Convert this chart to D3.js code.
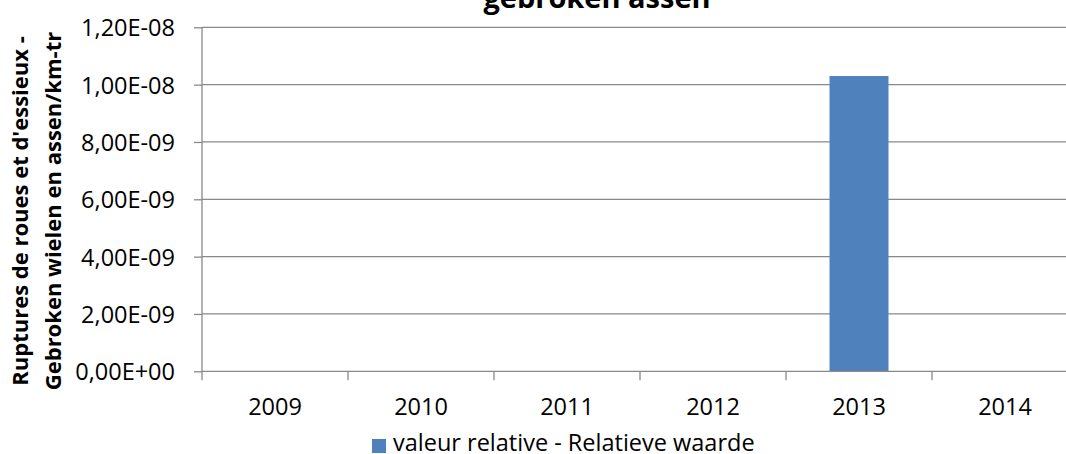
<!DOCTYPE html>
<html>
<head>
<meta charset="utf-8">
<script src="https://cdn.jsdelivr.net/npm/d3@7"></script>
<style>
  html, body { margin: 0; padding: 0; background: #fff; overflow: hidden; }
  svg { display: block; }
  text { font-family: "Open Sans", sans-serif; fill: #000; }
</style>
</head>
<body>
<svg id="chart" width="1066" height="454"></svg>
<script>
// Data
const years = ["2009", "2010", "2011", "2012", "2013", "2014"];
const relativeValues = [0, 0, 0, 0, 1.03e-8, 0];
const yTicks = [0, 2e-9, 4e-9, 6e-9, 8e-9, 1e-8, 1.2e-8];
const yTickLabels = ["0,00E+00", "2,00E-09", "4,00E-09", "6,00E-09", "8,00E-09", "1,00E-08", "1,20E-08"];
const titleText = "gebroken assen";
const yTitleLines = ["Ruptures de roues et d'essieux -", "Gebroken wielen en assen/km-tr"];
const seriesName = "valeur relative - Relatieve waarde";

const svg = d3.select("#chart");
const plot = { left: 202, right: 1078, top: 27.3, bottom: 371.3 };
const gridColor = "#898989";
const barColor = "#4F81BD";
const labelSize = "23.5px";

const xOuter = d3.scaleBand().domain(years).range([plot.left, plot.right]);
const y = d3.scaleLinear().domain([0, 1.2e-8]).range([plot.bottom, plot.top]);

// Horizontal gridlines
svg.append("g").selectAll("line").data(yTicks.slice(1)).join("line")
  .attr("x1", plot.left).attr("x2", plot.right)
  .attr("y1", d => y(d)).attr("y2", d => y(d))
  .attr("stroke", gridColor).attr("stroke-width", 1.3);

// Bars
svg.append("g").selectAll("rect").data(years.map((yr, i) => ({ yr, v: relativeValues[i] }))).join("rect")
  .attr("x", d => xOuter(d.yr) + xOuter.bandwidth() / 2 - 29.5)
  .attr("width", 59)
  .attr("y", d => y(d.v))
  .attr("height", d => y(0) - y(d.v))
  .attr("fill", barColor);

// Y axis
const yAxis = d3.axisLeft(y).tickValues(yTicks).tickSize(8).tickPadding(19)
  .tickFormat((d, i) => yTickLabels[i]);
const gy = svg.append("g").attr("transform", `translate(${plot.left},0)`).call(yAxis);
gy.select(".domain").attr("stroke", gridColor).attr("stroke-width", 1.3).attr("d", `M0,${plot.top}V${plot.bottom}`);
gy.selectAll(".tick line").attr("stroke", gridColor).attr("stroke-width", 1.3);
gy.selectAll(".tick text").style("font-family", "'Open Sans', sans-serif").style("font-size", labelSize).attr("fill", "#000").attr("dy", "0.36em");

// X axis: ticks at category boundaries
const gx = svg.append("g").attr("transform", `translate(0,${plot.bottom})`);
gx.append("line").attr("x1", plot.left).attr("x2", plot.right).attr("y1", 0).attr("y2", 0)
  .attr("stroke", gridColor).attr("stroke-width", 1.3);
const boundaries = years.map(d => xOuter(d)).concat([plot.right]);
gx.selectAll("line.tk").data(boundaries).join("line").attr("class", "tk")
  .attr("x1", d => d).attr("x2", d => d).attr("y1", 0).attr("y2", 9)
  .attr("stroke", gridColor).attr("stroke-width", 1.3);
gx.selectAll("text").data(years).join("text")
  .attr("x", d => xOuter(d) + xOuter.bandwidth() / 2)
  .attr("y", 44)
  .attr("text-anchor", "middle")
  .style("font-size", labelSize)
  .text(d => d);

// Title (last line of a title that runs above the top edge)
svg.append("text").attr("x", 597).attr("y", 8).attr("text-anchor", "middle")
  .style("font-size", "29px").style("font-weight", "bold").text(titleText);

// Y axis title
const yt = svg.append("text").attr("transform", "translate(0,211) rotate(-90)")
  .attr("text-anchor", "middle").style("font-size", "22px").style("font-weight", "bold");
yt.selectAll("tspan").data(yTitleLines).join("tspan")
  .attr("x", 0).attr("y", (d, i) => 28 + i * 33).text(d => d);

// Legend
const lg = svg.append("g").attr("transform", "translate(372,439)");
lg.append("rect").attr("width", 14).attr("height", 14).attr("fill", barColor);
lg.append("text").attr("x", 21).attr("y", 12).style("font-size", labelSize).text(seriesName);
</script>
</body>
</html>
